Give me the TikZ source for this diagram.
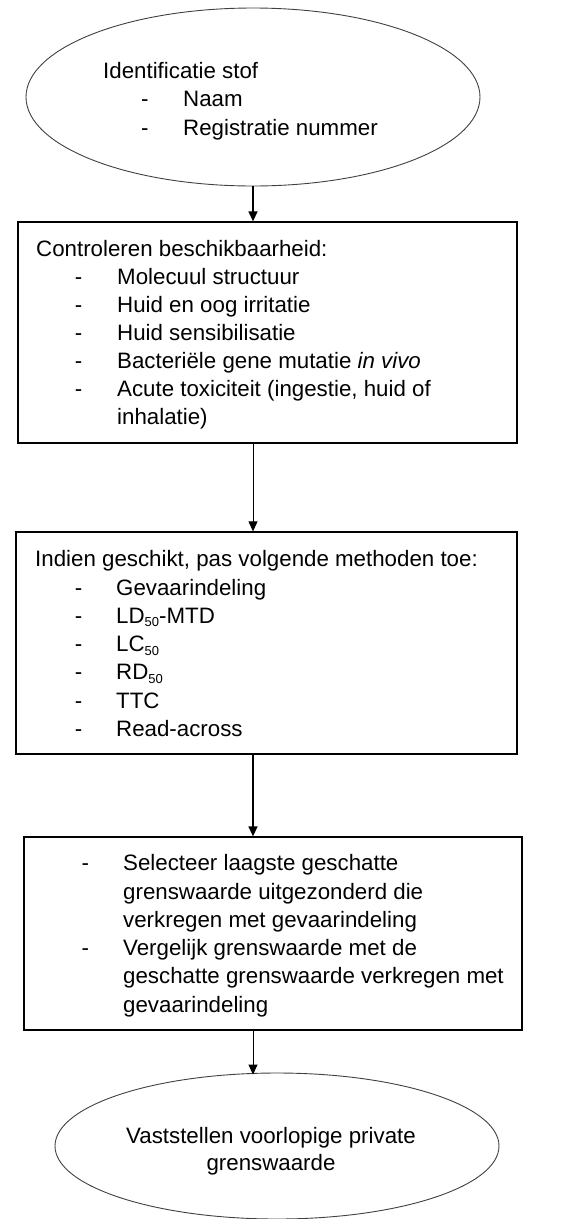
\documentclass[tikz,border=0pt]{standalone}
\usepackage{fontspec}
\setmainfont{Liberation Sans}
\usetikzlibrary{arrows.meta,shapes.geometric,calc}
\newcommand{\lowidx}[1]{\raisebox{-3.5pt}{\fontsize{13}{13}\selectfont #1}}
\begin{document}
\begin{tikzpicture}[x=1pt,y=-1pt,
  boxshape/.style={draw=black,line width=1.3pt,rectangle,inner sep=0pt},
  ellshape/.style={draw=black!75,line width=0.9pt,ellipse,inner sep=0pt},
  txt/.style={anchor=base west,inner sep=0pt,font=\fontsize{22.3}{26}\selectfont},
  ctxt/.style={anchor=base,inner sep=0pt,font=\fontsize{22.3}{26}\selectfont},
  arr/.style={-{Triangle[length=10pt,width=9pt]},line width=1.4pt},
  arrthin/.style={-{Triangle[length=10pt,width=9pt]},line width=0.9pt}
]
\useasboundingbox (0,0) rectangle (581,1219);
\coordinate (axis) at (253,0);

% shapes
\node[ellshape,minimum width=454pt,minimum height=178pt] (start) at (253,97) {};
\node[boxshape,minimum width=499pt,minimum height=221pt] (box1) at (267.5,332.5) {};
\node[boxshape,minimum width=501pt,minimum height=222pt] (box2) at (266.5,643) {};
\node[boxshape,minimum width=498pt,minimum height=193pt] (box3) at (273,933.5) {};
\node[ellshape,minimum width=444pt,minimum height=146pt] (finish) at (277,1146) {};

% top ellipse text
\node[txt] (s0) at (103,78.3) {Identificatie stof};
\node[txt] (s1d) at (141,106.7) {-};
\node[txt] (s1) at (183,106.7) {Naam};
\node[txt] (s2d) at (141,135) {-};
\node[txt] (s2) at (183,135) {Registratie nummer};

% box 1 text
\node[txt] (a0) at (36,256.7) {Controleren beschikbaarheid:};
\node[txt] (a1d) at (74.6,284.6) {-};
\node[txt] (a1) at (117,284.6) {Molecuul structuur};
\node[txt] (a2d) at (74.6,312.5) {-};
\node[txt] (a2) at (117,312.5) {Huid en oog irritatie};
\node[txt] (a3d) at (74.6,340.4) {-};
\node[txt] (a3) at (117,340.4) {Huid sensibilisatie};
\node[txt] (a4d) at (74.6,368.3) {-};
\node[txt] (a4) at (117,368.3) {Bacteriële gene mutatie \textit{in vivo}};
\node[txt] (a5d) at (74.6,396.2) {-};
\node[txt] (a5) at (117,396.2) {Acute toxiciteit (ingestie, huid of};
\node[txt] (a6) at (117,424.1) {inhalatie)};

% box 2 text
\node[txt] (b0) at (35,566.7) {Indien geschikt, pas volgende methoden toe:};
\node[txt] (b1d) at (74.6,595) {-};
\node[txt] (b1) at (116,595) {Gevaarindeling};
\node[txt] (b2d) at (74.6,623.3) {-};
\node[txt] (b2) at (116,623.3) {LD\lowidx{50}-MTD};
\node[txt] (b3d) at (74.6,651.6) {-};
\node[txt] (b3) at (116,651.6) {LC\lowidx{50}};
\node[txt] (b4d) at (74.6,679.9) {-};
\node[txt] (b4) at (116,679.9) {RD\lowidx{50}};
\node[txt] (b5d) at (74.6,708.2) {-};
\node[txt] (b5) at (116,708.2) {TTC};
\node[txt] (b6d) at (74.6,736.5) {-};
\node[txt] (b6) at (116,736.5) {Read-across};

% box 3 text
\node[txt] (c1d) at (81.3,870.7) {-};
\node[txt] (c1) at (123,870.7) {Selecteer laagste geschatte};
\node[txt] (c2) at (123,899) {grenswaarde uitgezonderd die};
\node[txt] (c3) at (123,927.3) {verkregen met gevaarindeling};
\node[txt] (c4d) at (81.3,955.6) {-};
\node[txt] (c4) at (123,955.6) {Vergelijk grenswaarde met de};
\node[txt] (c5) at (123,983.9) {geschatte grenswaarde verkregen met};
\node[txt] (c6) at (123,1012.2) {gevaarindeling};

% bottom ellipse text
\node[ctxt] (f1) at (271,1143.3) {Vaststellen voorlopige private};
\node[ctxt] (f2) at (271,1170) {grenswaarde};

% connectors
\draw[arr] (start.south -| axis) -- (box1.north -| axis);
\draw[arrthin] (box1.south -| axis) -- (box2.north -| axis);
\draw[arr] (box2.south -| axis) -- (box3.north -| axis);
\draw[arrthin] (box3.south -| axis) -- ($(finish.north -| axis)+(0,2)$);
\end{tikzpicture}
\end{document}
